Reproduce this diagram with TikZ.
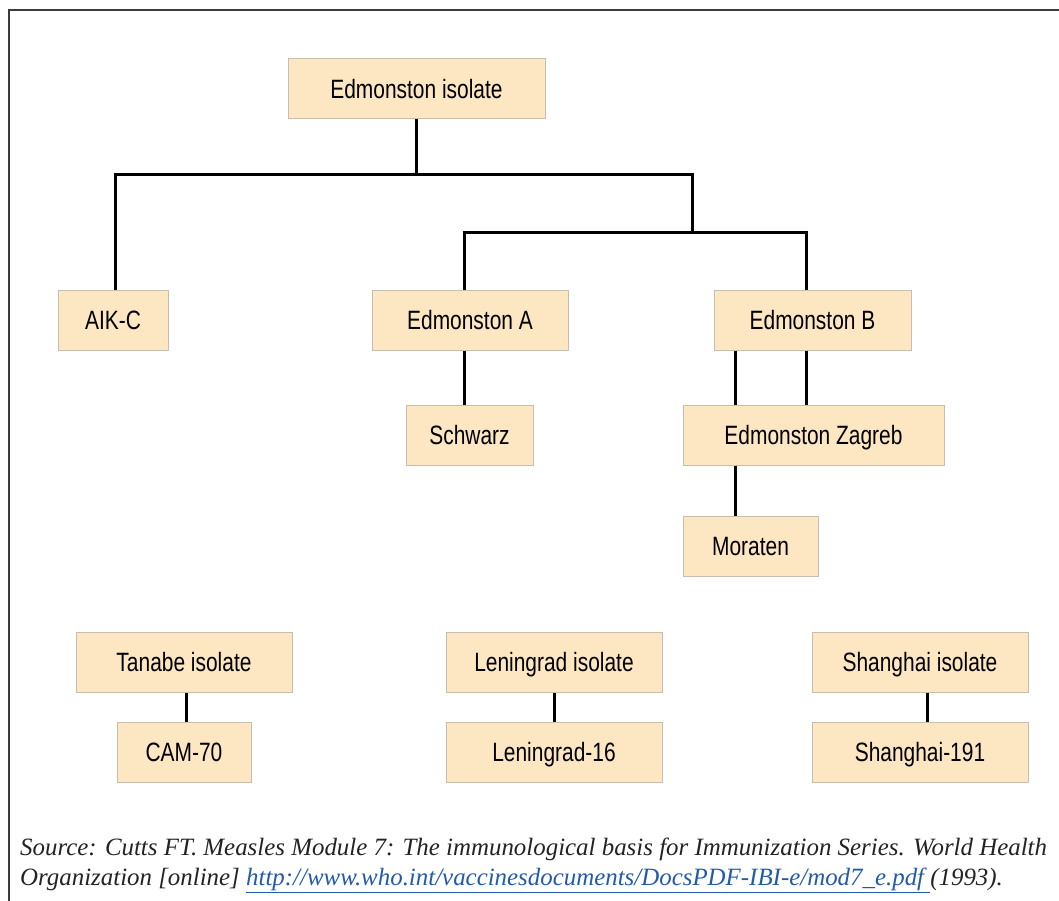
\documentclass[tikz,border=0pt]{standalone}
\usepackage{fontspec}
\setmainfont{Liberation Serif}
\newfontfamily\boxfont[FakeStretch=0.79]{Liberation Sans}
\definecolor{boxfill}{RGB}{253,230,194}
\definecolor{boxline}{RGB}{200,190,175}
\definecolor{framecol}{RGB}{60,60,60}
\definecolor{srccol}{RGB}{35,35,35}
\definecolor{urlblue}{RGB}{35,90,170}
\begin{document}
\begin{tikzpicture}[x=1pt,y=-1pt,
  box/.style={draw=boxline, fill=boxfill, line width=1pt, inner sep=0pt,
    minimum height=60pt, text height=18.9pt, text depth=0pt,
    font=\boxfont\fontsize{26.5}{28}\selectfont},
  conn/.style={line width=3pt, black},
  src/.style={anchor=base west, inner sep=0pt, text=srccol,
    font=\itshape\fontsize{24.9}{28}\selectfont}]
\useasboundingbox (0,0) rectangle (1059,901);
% frame
\coordinate (fBL) at (9,901);
\coordinate (fTL) at (9,10);
\coordinate (fTR) at (1059,10);
\draw[framecol, line width=2pt] (fBL) -- (fTL) -- (fTR);
% nodes
\node[box, minimum width=257pt] (iso) at (416.5,89) {Edmonston isolate};
\node[box, minimum width=110pt] (aik) at (113,320) {AIK-C};
\node[box, minimum width=196pt] (edA) at (470,320) {Edmonston A};
\node[box, minimum width=197pt] (edB) at (812.5,320) {Edmonston B};
\node[box, minimum width=127pt] (sch) at (469.5,435) {Schwarz};
\node[box, minimum width=261pt] (zag) at (813.5,435) {Edmonston Zagreb};
\node[box, minimum width=135pt] (mor) at (750.5,546) {Moraten};
\node[box, minimum width=216pt] (tan) at (184,662) {Tanabe isolate};
\node[box, minimum width=134pt] (cam) at (184,752) {CAM-70};
\node[box, minimum width=216pt] (len) at (554,662) {Leningrad isolate};
\node[box, minimum width=216pt] (len16) at (554,752) {Leningrad-16};
\node[box, minimum width=216pt] (sha) at (920,662) {Shanghai isolate};
\node[box, minimum width=216pt] (sha191) at (920,752) {Shanghai-191};
% junction coordinates
\coordinate (h1L) at (115,175);
\coordinate (h1M) at (416.5,175);
\coordinate (h1R) at (692,175);
\coordinate (h2L) at (464,233);
\coordinate (h2R) at (806,233);
\coordinate (b1) at (735,0);
\coordinate (b2) at (806,0);
\coordinate (c1) at (186,0);
\coordinate (s1) at (927,0);
% connectors
\draw[conn] (iso.south) -- (h1M);
\draw[conn] (aik.north -| h1L) -- (h1L) -- (h1R) -- (h1R |- h2L);
\draw[conn] (edA.north -| h2L) -- (h2L) -- (h2R) -- (edB.north -| h2R);
\draw[conn] (edA.south -| h2L) -- (sch.north -| h2L);
\draw[conn] (edB.south -| b1) -- (zag.north -| b1);
\draw[conn] (edB.south -| b2) -- (zag.north -| b2);
\draw[conn] (zag.south -| b1) -- (mor.north -| b1);
\draw[conn] (tan.south -| c1) -- (cam.north -| c1);
\draw[conn] (len.south) -- (len16.north);
\draw[conn] (sha.south -| s1) -- (sha191.north -| s1);
% source
\node[src] (src1) at (20,855) {Source: Cutts FT. Measles Module 7: The immunological basis for Immunization Series. World Health};
\node[src] (src2) at (20,885) {Organization [online] \textcolor{urlblue}{\underline{http://www.who.int/vaccinesdocuments/DocsPDF-IBI-e/mod7\_e.pdf }}(1993).};
\end{tikzpicture}
\end{document}
